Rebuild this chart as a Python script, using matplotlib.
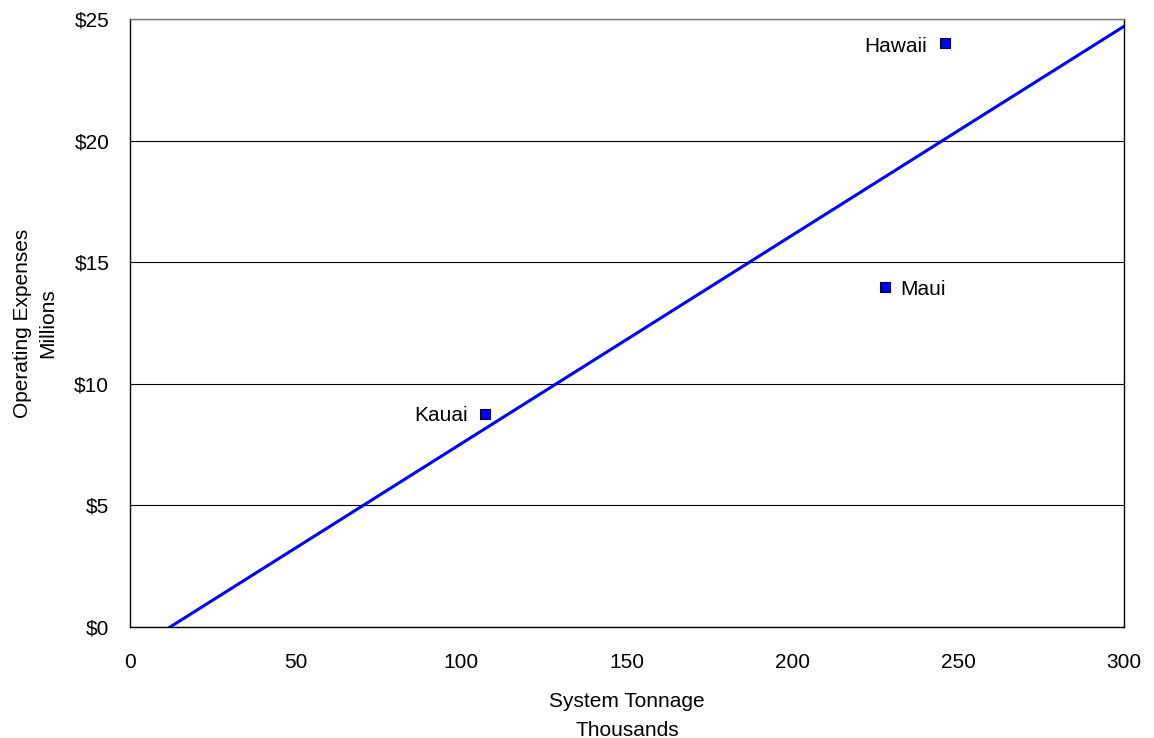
import matplotlib
matplotlib.use("Agg")
import matplotlib.pyplot as plt

plt.rcParams['font.family'] = ['Liberation Sans', 'DejaVu Sans']

islands = ["Hawaii", "Maui", "Kauai"]
tonnage = [246, 228, 107]          # thousands
expenses = [24.0, 14.0, 8.75]      # $ millions
trend_x = [12.1, 300]
trend_y = [0, 24.7]
x_ticks = [0, 50, 100, 150, 200, 250, 300]
y_ticks = [0, 5, 10, 15, 20, 25]
y_labels = ["$0", "$5", "$10", "$15", "$20", "$25"]

FS = 15

fig = plt.figure(figsize=(11.54, 7.38), dpi=100)
ax = fig.add_axes([130/1154, 1 - 627/738, 994/1154, 608/738])

ax.set_xlim(0, 300)
ax.set_ylim(0, 25)
ax.set_xticks(x_ticks)
ax.set_yticks(y_ticks)
ax.set_yticklabels(y_labels)
ax.tick_params(length=0, labelsize=FS)
ax.tick_params(axis='y', pad=15)
ax.tick_params(axis='x', pad=19)
ax.grid(axis='y', color='#000000', linewidth=0.8)
ax.set_axisbelow(True)
for s in ax.spines.values():
    s.set_linewidth(1.0)
    s.set_color('black')
ax.spines['top'].set_color('#777777')

ax.plot(trend_x, trend_y, color='#0000ff', linewidth=2.2, zorder=3)
ax.scatter(tonnage, expenses, marker='s', s=55, facecolor='#0000ff',
           edgecolor='#000033', linewidth=0.8, zorder=4)

offsets = {"Hawaii": (-13, -2, 'right'), "Maui": (11, -2, 'left'), "Kauai": (-12, -1, 'right')}
for name, x, y in zip(islands, tonnage, expenses):
    dx, dy, ha = offsets[name]
    ax.annotate(name, (x, y), xytext=(dx, dy), textcoords='offset points',
                ha=ha, va='center', fontsize=FS)

ax.set_xlabel("System Tonnage\nThousands", fontsize=FS, linespacing=1.7, labelpad=14)
ax.set_ylabel("Operating Expenses\nMillions", fontsize=FS, linespacing=1.45, labelpad=12)

fig.savefig("out.png", dpi=100)
